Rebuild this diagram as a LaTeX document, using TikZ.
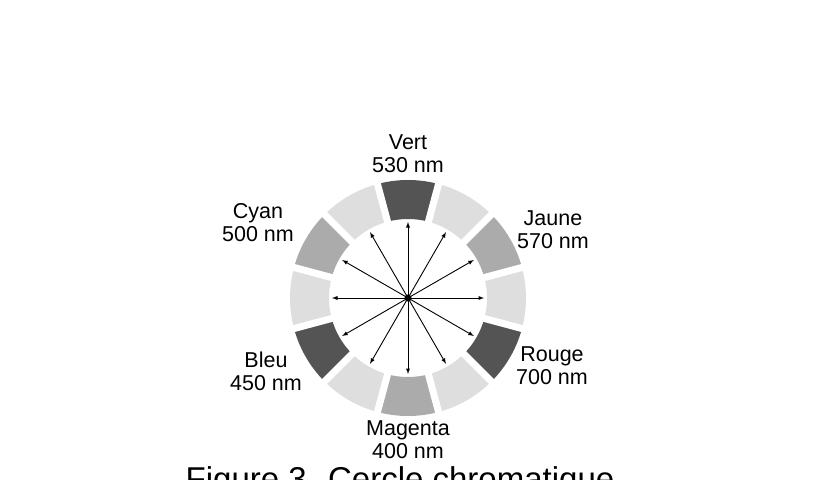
\documentclass[tikz,border=0pt]{standalone}
\usepackage{fontspec}
\setmainfont{Liberation Sans}
\definecolor{darkseg}{gray}{0.33}
\definecolor{midseg}{gray}{0.67}
\definecolor{lightseg}{gray}{0.87}
\tikzset{
  gap/.style = {draw=white, line width=7pt},
  colorname/.style = {align=center, inner sep=0pt,
    font=\fontsize{21.5}{23}\selectfont}
}
\tikzset{>=latex}

\begin{document}
\begin{tikzpicture}[x=1pt,y=1pt]
  \useasboundingbox (-408,-181) rectangle (410,298);
  %
  \foreach \k in {0,...,11} {
    \pgfmathsetmacro\a{90-30*\k}
    \pgfmathtruncatemacro\m{mod(\k,4)}
    \ifcase\m \def\c{darkseg}\or \def\c{lightseg}\or \def\c{midseg}\else \def\c{lightseg}\fi
    \fill[\c] ({\a-15}:79) -- ({\a-15}:118)
      arc[start angle=\a-15, end angle=\a+15, radius=118]
      -- ({\a+15}:79)
      arc[start angle=\a+15, end angle=\a-15, radius=79] -- cycle;
  }
  \foreach \k in {0,...,11}
    \draw[gap] ({15+30*\k}:76) -- ({15+30*\k}:121);
  %
  \node[circle, fill, inner sep=2.5pt] (hub) at (0,0) {};
  \foreach \a in {0,30,...,330} {
    \coordinate (tip\a) at (\a:76);
    \draw[->, line width=0.9pt] (hub.center) -- (tip\a);
  }
  %
  \node[colorname] (vert) at (0,144) {Vert\\530 nm};
  \node[colorname] (jaune) at (145,68.5) {Jaune\\570 nm};
  \node[colorname] (rouge) at (144,-68) {Rouge\\700 nm};
  \node[colorname] (magenta) at (0,-142) {Magenta\\400 nm};
  \node[colorname] (bleu) at (-142,-73.5) {Bleu\\450 nm};
  \node[colorname] (cyan) at (-150,75) {Cyan\\500 nm};
  %
  \node[anchor=base, font=\fontsize{33}{36}\selectfont] (caption) at (-8,-192)
    {Figure 3. Cercle chromatique};
\end{tikzpicture}
\end{document}
